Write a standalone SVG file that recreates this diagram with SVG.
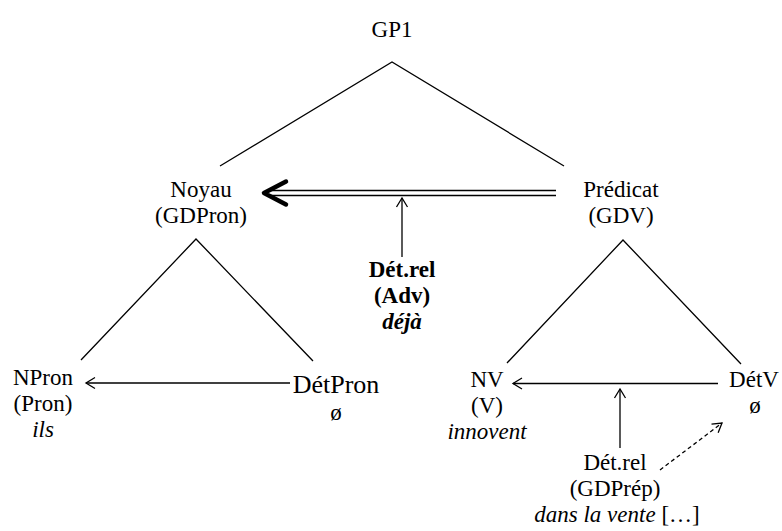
<svg xmlns="http://www.w3.org/2000/svg" width="782" height="531" viewBox="0 0 782 531" font-family="Liberation Serif, serif" font-size="23">
<style>
text{fill:#000;text-anchor:middle}
.b{font-weight:bold}
.i{font-style:italic}
.big{font-size:26px}
.ln{stroke:#000;stroke-width:1.3;fill:none}
.dash{stroke-dasharray:4 3}
</style>
<defs>
<marker id="open" viewBox="-11 -7 13 14" refX="0" refY="0" markerWidth="13" markerHeight="14" markerUnits="userSpaceOnUse" orient="auto">
<path d="M-9,-5.5 L0,0 L-9,5.5" fill="none" stroke="#000" stroke-width="1.3"/>
</marker>
</defs>
<rect width="782" height="531" fill="#fff"/>
<g id="connectors">
<polyline class="ln" points="220,166 392,62 564,166"/>
<polyline class="ln" points="81,360 196,239 313,361"/>
<polyline class="ln" points="507,363 623,240 741,364"/>
<line class="ln" x1="269" y1="190.5" x2="556" y2="190.5" stroke-width="1.6"/>
<line class="ln" x1="269" y1="195.5" x2="556" y2="195.5" stroke-width="1.6"/>
<path d="M286,181.5 L264,193 L286,204.5" fill="none" stroke="#000" stroke-width="4.5" stroke-linecap="round" stroke-linejoin="round"/>
<line class="ln" x1="402" y1="257" x2="402" y2="198" marker-end="url(#open)"/>
<line class="ln" x1="290" y1="383" x2="86" y2="383" marker-end="url(#open)"/>
<line class="ln" x1="718" y1="383.5" x2="513" y2="383.5" marker-end="url(#open)"/>
<line class="ln" x1="620" y1="448" x2="620" y2="389" marker-end="url(#open)"/>
<line class="ln dash" x1="660" y1="470" x2="722" y2="423" marker-end="url(#open)"/>
</g>
<g id="gp1"><text x="392" y="37">GP1</text></g>
<g id="noyau"><text x="201" y="197">Noyau</text><text x="201" y="223">(GDPron)</text></g>
<g id="predicat"><text x="621" y="197">Prédicat</text><text x="621" y="223">(GDV)</text></g>
<g id="detrel-adv"><text class="b" x="402" y="277">Dét.rel</text><text class="b" x="402" y="303">(Adv)</text><text class="b i" x="402" y="329">déjà</text></g>
<g id="npron"><text x="43" y="385">NPron</text><text x="43" y="411">(Pron)</text><text class="i" x="43" y="437">ils</text></g>
<g id="detpron"><text class="big" x="336" y="393">DétPron</text><text x="336" y="420">ø</text></g>
<g id="nv"><text x="487" y="387">NV</text><text x="487" y="413">(V)</text><text class="i" x="487" y="439">innovent</text></g>
<g id="detv"><text x="754" y="387">DétV</text><text x="755" y="413">ø</text></g>
<g id="detrel-gdprep"><text x="615" y="470">Dét.rel</text><text x="615" y="496">(GDPrép)</text><text x="617" y="522"><tspan class="i">dans la vente</tspan> […]</text></g>
</svg>
